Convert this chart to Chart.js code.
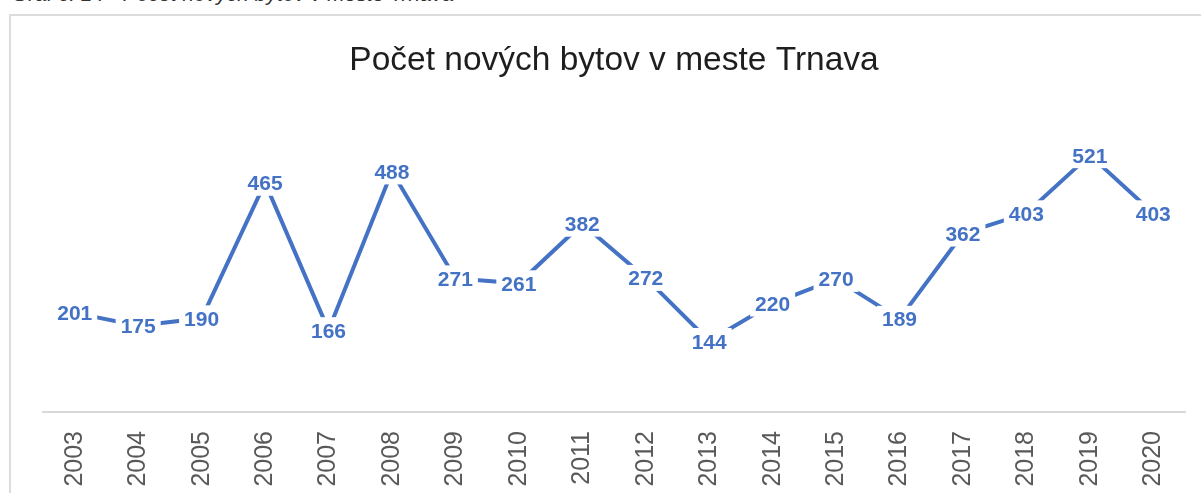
<!DOCTYPE html>
<html lang="sk">
<head>
  <meta charset="UTF-8"/>
  <title>Počet nových bytov v meste Trnava</title>
  <script src="https://cdn.jsdelivr.net/npm/chart.js"></script>
  <style>
    html, body { margin: 0; padding: 0; background: #fff; overflow: hidden; width: 1201px; height: 493px; }
    .caption { position: absolute; left: 12px; top: -17px; font: italic 21px 'Liberation Sans', sans-serif; line-height: 21px; color: #333; white-space: nowrap; }
    .frame { position: absolute; left: 9px; top: 14px; width: 1300px; height: 600px; border: 2px solid #dcdcdc; box-sizing: border-box; }
    #wrap { position: absolute; left: 0; top: 0; width: 1225px; height: 493px; }
  </style>
</head>
<body>
  <div class="caption">Graf č. 14 - Počet nových bytov v meste Trnava</div>
  <div class="frame"></div>
  <div id="wrap"><canvas id="chart"></canvas></div>

  <script>
    const years = ['2003', '2004', '2005', '2006', '2007', '2008', '2009', '2010', '2011',
                   '2012', '2013', '2014', '2015', '2016', '2017', '2018', '2019', '2020'];
    const flats = [201, 175, 190, 465, 166, 488, 271, 261, 382, 272, 144, 220, 270, 189, 362, 403, 521, 403];

    const blue = '#4472C4';

    // labels centred on the points, white box hides the line under them
    const pointLabels = {
      id: 'pointLabels',
      afterDatasetsDraw(chart) {
        const ctx = chart.ctx;
        const meta = chart.getDatasetMeta(0);
        ctx.save();
        ctx.font = 'bold 21px "Liberation Sans", sans-serif';
        ctx.textAlign = 'center';
        ctx.textBaseline = 'alphabetic';
        meta.data.forEach((pt, i) => {
          const txt = String(flats[i]);
          const w = ctx.measureText(txt).width;
          ctx.fillStyle = '#fff';
          ctx.fillRect(pt.x - w / 2 - 5, pt.y - 13, w + 10, 26);
          ctx.fillStyle = blue;
          ctx.fillText(txt, pt.x, pt.y + 7.5);
        });
        ctx.restore();
      }
    };

    new Chart(document.getElementById('chart'), {
      type: 'line',
      data: {
        labels: years,
        datasets: [{
          data: flats,
          borderColor: blue,
          borderWidth: 4,
          pointRadius: 0,
          tension: 0,
          fill: false
        }]
      },
      options: {
        responsive: true,
        maintainAspectRatio: false,
        animation: false,
        layout: { padding: { left: 43, right: 40, top: 0, bottom: 0 } },
        plugins: {
          legend: { display: false },
          tooltip: { enabled: false },
          title: {
            display: true,
            text: 'Počet nových bytov v meste Trnava',
            color: '#1e1e1e',
            font: { family: '"Liberation Sans", sans-serif', size: 33.5, weight: 'normal', lineHeight: 1.2 },
            padding: { top: 41, bottom: 35 }
          }
        },
        scales: {
          x: {
            offset: true,
            grid: { display: false, drawTicks: false },
            border: { display: true, color: '#d9d9d9', width: 2 },
            ticks: {
              color: '#595959',
              minRotation: 90,
              maxRotation: 90,
              padding: 19,
              font: { family: '"Liberation Sans", sans-serif', size: 25 }
            },
            afterFit: s => { s.height = 81; }
          },
          y: {
            display: false,
            min: 0,
            max: 600
          }
        }
      },
      plugins: [pointLabels]
    });
  </script>
</body>
</html>
